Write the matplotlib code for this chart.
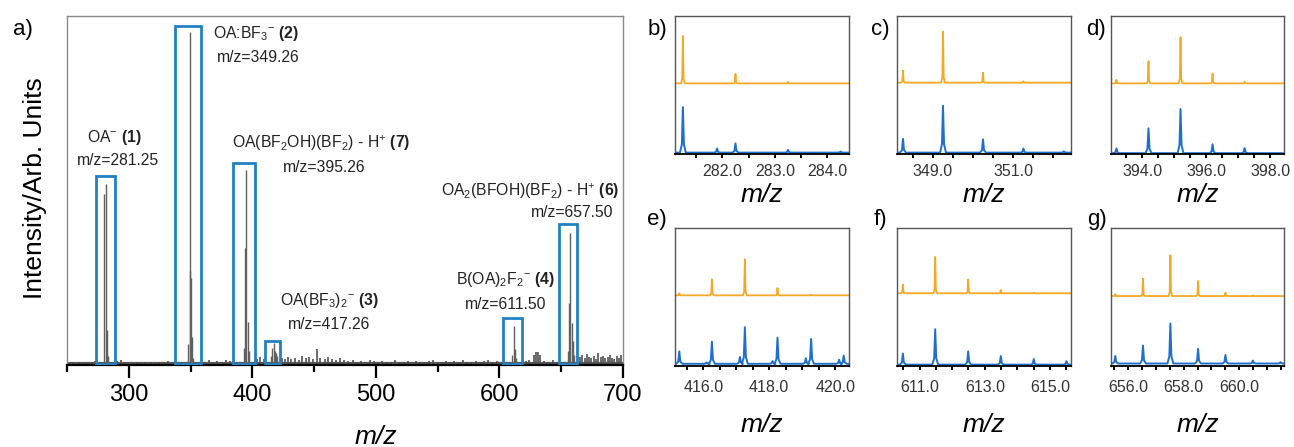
import matplotlib
matplotlib.use('Agg')
import matplotlib.pyplot as plt
from matplotlib.patches import Rectangle

plt.rcParams.update({
    'font.family': ['Liberation Sans', 'DejaVu Sans'],
    'mathtext.fontset': 'custom',
    'mathtext.rm': 'Liberation Sans',
    'mathtext.it': 'Liberation Sans:italic',
    'mathtext.bf': 'Liberation Sans:bold',
})

# ---- a) full spectrum ----
main_mz = [279.7, 281.25, 282.25, 283.25,
           348.26, 349.26, 349.7, 350.26, 351.26, 352.3,
           393.2, 394.2, 395.26, 396.2, 397.2,
           415.3, 416.3, 417.3, 418.3, 419.3, 420.2,
           610.5, 611.5, 612.5, 613.5,
           655.5, 656.5, 657.5, 658.5, 659.5, 660.5]
main_int = [0.49, 0.52, 0.10, 0.025,
            0.06, 0.953, 0.27, 0.25, 0.08, 0.02,
            0.05, 0.335, 0.56, 0.124, 0.04,
            0.025, 0.05, 0.063, 0.04, 0.035, 0.025,
            0.03, 0.112, 0.045, 0.02,
            0.04, 0.177, 0.378, 0.12, 0.07, 0.03]

# low level background peaks
grass_mz = [251.5, 254.2, 257.8, 260.1, 263.6, 266.9, 270.4, 273.0, 286.4, 290.8,
            293.5, 296.2, 299.7, 303.1, 306.8, 310.2, 313.5, 317.9, 321.4, 324.6,
            328.3, 331.7, 334.9, 361.2, 364.8, 368.1, 371.5, 375.2, 378.6, 382.3,
            403.8, 406.5, 409.2, 423.7, 426.1, 428.9, 431.6, 434.2, 437.5, 440.3,
            443.1, 446.0, 449.4, 452.3, 455.1, 458.6, 461.2, 464.8, 467.5, 470.9,
            474.3, 477.8, 481.2, 484.6, 488.1, 491.3, 494.9, 498.2, 501.7, 505.3,
            508.6, 512.1, 515.4, 519.0, 522.5, 525.8, 529.3, 532.7, 536.1, 539.6,
            543.0, 546.4, 549.9, 553.2, 556.8, 560.1, 563.5, 567.0, 570.4, 573.8,
            577.2, 580.7, 584.1, 587.5, 591.0, 594.3, 597.8, 621.4, 624.2, 627.6,
            629.3, 631.1, 632.8, 636.4, 640.1, 643.5, 646.2, 665.2, 667.1, 669.0,
            670.8, 672.7, 674.5, 676.3, 678.2, 680.1, 681.9, 683.8, 685.6, 687.5,
            689.3, 691.2, 693.0, 694.9, 696.7, 698.6]
grass_int = [0.006, 0.008, 0.005, 0.009, 0.007, 0.010, 0.008, 0.011, 0.009, 0.012,
             0.014, 0.010, 0.008, 0.007, 0.009, 0.006, 0.008, 0.010, 0.007, 0.009,
             0.008, 0.011, 0.009, 0.010, 0.013, 0.009, 0.012, 0.010, 0.014, 0.011,
             0.018, 0.022, 0.017, 0.020, 0.016, 0.024, 0.018, 0.021, 0.015, 0.026,
             0.019, 0.022, 0.017, 0.045, 0.020, 0.016, 0.023, 0.018, 0.014, 0.019,
             0.013, 0.011, 0.015, 0.010, 0.012, 0.009, 0.013, 0.011, 0.008, 0.012,
             0.010, 0.009, 0.013, 0.010, 0.008, 0.011, 0.009, 0.012, 0.010, 0.008,
             0.011, 0.013, 0.009, 0.010, 0.012, 0.008, 0.011, 0.009, 0.013, 0.010,
             0.009, 0.012, 0.010, 0.011, 0.014, 0.010, 0.012, 0.012, 0.015, 0.030,
             0.038, 0.036, 0.028, 0.012, 0.010, 0.013, 0.009, 0.022, 0.028, 0.019,
             0.031, 0.024, 0.020, 0.026, 0.018, 0.033, 0.022, 0.027, 0.019, 0.024,
             0.030, 0.021, 0.017, 0.025, 0.020, 0.028]

box_lo = [273.1, 337.7, 384.1, 410.5, 602.7, 648.4]
box_hi = [289.2, 358.6, 402.2, 422.3, 618.0, 663.1]
box_top = [0.542, 0.970, 0.580, 0.069, 0.134, 0.403]

ion_names = [r'OA$^{-}$ $\mathbf{(1)}$',
             r'OA:BF$_{3}$$^{-}$ $\mathbf{(2)}$',
             r'OA(BF$_{2}$OH)(BF$_{2}$) - H$^{+}$ $\mathbf{(7)}$',
             r'OA(BF$_{3}$)$_{2}$$^{-}$ $\mathbf{(3)}$',
             r'B(OA)$_{2}$F$_{2}$$^{-}$ $\mathbf{(4)}$',
             r'OA$_{2}$(BFOH)(BF$_{2}$) - H$^{+}$ $\mathbf{(6)}$']
ion_mz = ['m/z=281.25', 'm/z=349.26', 'm/z=395.26', 'm/z=417.26', 'm/z=611.50', 'm/z=657.50']

# ---- b)-g) isotope patterns: simulated (orange) vs measured (blue) ----
panel_tags = ['b)', 'c)', 'd)', 'e)', 'f)', 'g)']
tick_labels = [[282.0, 283.0, 284.0], [349.0, 351.0], [394.0, 396.0, 398.0],
               [416.0, 418.0, 420.0], [611.0, 613.0, 615.0], [656.0, 658.0, 660.0]]
sim_mz = [[281.25, 282.25, 283.25],
          [348.25, 349.25, 350.25, 351.26],
          [393.2, 394.2, 395.2, 396.2, 397.2],
          [415.27, 416.26, 417.26, 418.25, 419.27],
          [610.49, 611.48, 612.49, 613.49, 614.5],
          [655.53, 656.53, 657.52, 658.52, 659.51, 660.5]]
sim_int = [[0.343, 0.068, 0.010],
           [0.087, 0.370, 0.072, 0.010],
           [0.025, 0.160, 0.334, 0.070, 0.012],
           [0.015, 0.116, 0.261, 0.053, 0.005],
           [0.063, 0.263, 0.100, 0.024, 0.004],
           [0.014, 0.126, 0.295, 0.109, 0.024, 0.004]]
exp_mz = [[281.25, 281.9, 282.25, 283.25, 284.25],
          [348.25, 349.25, 350.25, 351.26, 352.27],
          [393.2, 394.2, 395.2, 396.2, 397.2],
          [415.27, 416.1, 416.26, 417.11, 417.26, 418.1, 418.25, 419.11, 419.27, 420.12, 420.26],
          [610.49, 611.48, 612.49, 613.49, 614.5, 615.5],
          [655.53, 656.53, 657.52, 658.52, 659.51, 660.5, 661.5]]
exp_int = [[0.330, 0.030, 0.067, 0.020, 0.008],
           [0.100, 0.340, 0.096, 0.030, 0.010],
           [0.035, 0.180, 0.320, 0.065, 0.037],
           [0.090, 0.010, 0.160, 0.050, 0.265, 0.020, 0.190, 0.040, 0.180, 0.030, 0.060],
           [0.080, 0.256, 0.096, 0.062, 0.040, 0.025],
           [0.055, 0.130, 0.290, 0.106, 0.062, 0.021, 0.010]]
sim_base = [0.512, 0.517, 0.512, 0.512, 0.527, 0.507]
exp_base = [0.010, 0.010, 0.006, 0.016, 0.010, 0.018]

orange = '#F7A823'
blue = '#1E6FD0'
box_blue = '#2281C4'

W, H = 1294, 447
fig = plt.figure(figsize=(W / 100, H / 100), dpi=100)


def px_axes(l, t, r, b):
    return fig.add_axes([l / W, 1 - b / H, (r - l) / W, (b - t) / H])


# ---------- panel a ----------
ax = px_axes(67, 16, 623, 365)
ax.set_xlim(250, 700)
ax.set_ylim(0, 1)
ax.plot([250, 700], [0.005, 0.005], color='#5a5a5a', lw=1.6)
ax.vlines(grass_mz, 0.003, grass_int, color='#505050', lw=1.2)
ax.vlines(main_mz, 0.003, main_int, color='#606060', lw=1.0)

for lo, hi, top in zip(box_lo, box_hi, box_top):
    ax.add_patch(Rectangle((lo, 0.002), hi - lo, top - 0.002, fill=False,
                           edgecolor=box_blue, lw=2.0, zorder=3))

# label anchors: (x, y of name, y of m/z line, alignment)
label_pos = [(288.5, 0.653, 0.587, 'center'),
             (368.2, 0.950, 0.880, 'left'),
             (455.6, 0.636, 0.567, 'center'),
             (462.0, 0.186, 0.115, 'center'),
             (604.9, 0.244, 0.172, 'center'),
             (624.7, 0.499, 0.438, 'center')]
mz_x = [291.3, 371.4, 458.0, 462.0, 604.9, 659.1]
for (x, yn, ym, ha), name, mzt, mx in zip(label_pos, ion_names, ion_mz, mz_x):
    ax.text(x, yn, name, ha=ha, va='center', fontsize=11.3, color='#222222')
    ax.text(mx, ym, mzt, ha=ha, va='center', fontsize=11.3, color='#222222')

for side in ['left', 'top', 'right']:
    ax.spines[side].set_color('#8a8a8a')
    ax.spines[side].set_linewidth(1.0)
ax.spines['bottom'].set_color('black')
ax.spines['bottom'].set_linewidth(1.6)
ax.set_yticks([])
ax.set_xticks([300, 400, 500, 600, 700])
ax.set_xticks([250, 350, 450, 550, 650], minor=True)
ax.tick_params(axis='x', which='major', direction='out', length=9, width=1.6,
               labelsize=17, pad=5, color='black')
ax.tick_params(axis='x', which='minor', direction='out', length=4.8, width=1.6, color='black')
ax.text(500, -0.205, 'm/z', transform=ax.get_xaxis_transform(), ha='center', va='center',
        fontsize=19, style='italic')
fig.text(35 / W, 1 - 188 / H, 'Intensity/Arb. Units', rotation=90, ha='center', va='center',
         fontsize=19)
fig.text(23 / W, 1 - 30 / H, 'a)', ha='center', va='center', fontsize=16)

# ---------- panels b-g ----------
boxes = [(675, 16, 849, 154), (897, 16, 1071, 154), (1111, 16, 1284, 154),
         (675, 228, 849, 366), (897, 228, 1071, 366), (1111, 228, 1284, 366)]
xlims = [(281.1, 284.41), (348.1, 352.45), (393.03, 398.43),
         (415.14, 420.42), (610.31, 615.64), (655.375, 661.625)]
tag_xy = [(657, 30), (880, 30), (1096, 30), (657, 219), (880, 219), (1097, 219)]
mz_lab_y = [-0.30, -0.30, -0.30, -0.43, -0.43, -0.43]
tick_pad = [4, 4, 4, 7, 7, 7]


def trace(ax, mz, inten, base, lo, hi, halfw, foot, color, lw):
    xs, ys = [lo], [base]
    for p, h in sorted(zip(mz, inten)):
        xs += [p - halfw, p - 0.35 * halfw, p, p + 0.35 * halfw, p + halfw]
        ys += [base, base + foot * h, base + h, base + foot * h, base]
    xs.append(hi)
    ys.append(base)
    ax.plot(xs, ys, color=color, lw=lw, solid_joinstyle='round')


for i in range(6):
    a = px_axes(*boxes[i])
    lo, hi = xlims[i]
    span = hi - lo
    a.set_xlim(lo, hi)
    a.set_ylim(0, 1)
    trace(a, sim_mz[i], sim_int[i], sim_base[i], lo, hi, 0.011 * span, 0.10, orange, 1.3)
    trace(a, exp_mz[i], exp_int[i], exp_base[i], lo, hi, 0.017 * span, 0.18, blue, 1.4)

    for side in ['left', 'top', 'right']:
        a.spines[side].set_color('#555555')
        a.spines[side].set_linewidth(1.0)
    a.spines['bottom'].set_color('black')
    a.spines['bottom'].set_linewidth(1.3)
    a.set_yticks([])
    first = int(lo * 2 + 1) / 2
    minor = [first + 0.5 * k for k in range(int((hi - first) / 0.5) + 1)]
    a.set_xticks(minor, minor=True)
    a.set_xticks(tick_labels[i])
    a.set_xticklabels(['%.1f' % v for v in tick_labels[i]])
    a.tick_params(axis='x', which='both', direction='out', length=3.2, width=1.4, color='black')
    a.tick_params(axis='x', which='major', labelsize=11.5, labelcolor='#333333', pad=tick_pad[i])
    a.text(0.5, mz_lab_y[i], 'm/z', transform=a.transAxes, ha='center', va='center',
           fontsize=19, style='italic')
    fig.text(tag_xy[i][0] / W, 1 - tag_xy[i][1] / H, panel_tags[i], ha='center', va='center',
             fontsize=16)

fig.savefig('out.png', dpi=100)
